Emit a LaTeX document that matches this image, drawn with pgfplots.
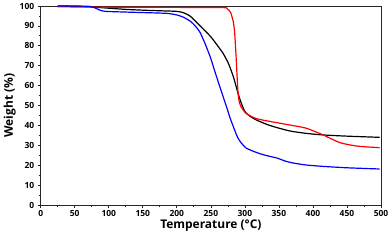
\documentclass[border=0pt]{standalone}
\usepackage{fontspec}
\setmainfont{Open Sans}
\usepackage{pgfplots}
\pgfplotsset{compat=1.18}
\begin{document}
\begin{tikzpicture}
\begin{axis}[
  scale only axis,
  width=340.3bp, height=199bp,
  xmin=0, xmax=500, ymin=0, ymax=100,
  xtick={0,50,...,500}, ytick={0,10,...,100},
  minor x tick num=1, minor y tick num=1,
  xtick pos=bottom, ytick pos=left,
  tick align=outside,
  major tick length=3bp, minor tick length=2bp,
  /pgf/number format/assume math mode=true,
  xticklabel={\pgfmathprintnumber{\tick}},
  yticklabel={\pgfmathprintnumber{\tick}},
  tick label style={font=\fontsize{8.5}{10}\selectfont\bfseries},
  xticklabel style={yshift=1bp},
  xlabel={Temperature (°C)}, ylabel={Weight (\%)},
  label style={font=\fontsize{12}{14}\selectfont\bfseries},
  xlabel style={yshift=3.5bp},
  ylabel style={yshift=-3bp},
  axis line style={line width=0.9bp, black!85},
  every tick/.style={black!85, line width=0.7bp},
  every axis plot/.append style={line width=1.2bp, smooth, tension=0.4, mark=none},
]
\addplot[black] coordinates {(25,100)(50,99.9)(75,99.5)(100,98.9)(125,98.3)(150,97.9)(175,97.6)(200,97.3)(210,96.6)(220,94.8)(230,91.5)(240,88)(250,84.5)(260,80)(268,76.2)(276,71)(283,64.5)(288,58.5)(293,52.8)(300,47)(308,44.5)(317,42.7)(330,40.8)(342,39.4)(366,37.2)(390,36)(415,35.2)(450,34.6)(498,34.0)};
\addplot[red] coordinates {(25,99.6)(100,99.4)(200,99.3)(268,99.2)(274,98.6)(279,96.8)(283,92)(285,86.3)(287,75)(288.5,65)(290,56)(292,51.5)(295,49)(302,46)(317,43.4)(340,41.8)(366,40.2)(390,38.6)(415,35.2)(440,31.3)(465,29.6)(498,28.8)};
\addplot[blue] coordinates {(25,100)(50,100)(72,99.8)(80,99)(88,97.8)(95,97.3)(120,97)(150,96.7)(185,96.3)(200,95.5)(210,94.3)(220,92.3)(227,90)(234,86.8)(241,81.5)(249,74.5)(256,67)(263,59.6)(268,54.5)(273,49.4)(278,44)(283,39.4)(288,35)(293,31.9)(302,28.6)(317,26.4)(330,25)(347,23.6)(360,22)(371,21.1)(390,20.1)(415,19.4)(450,18.7)(498,18.1)};
\end{axis}
\begin{axis}[
  scale only axis,
  width=340.3bp, height=199bp,
  xmin=0, xmax=500, ymin=0, ymax=100,
  axis lines=none,
  xtick={0,50,...,500}, minor x tick num=1, ytick=\empty,
  xtick pos=top, tick align=inside, xticklabels={},
  major tick length=3bp, minor tick length=2bp,
  every tick/.style={black!85, line width=0.7bp},
]
\end{axis}
\pgfresetboundingbox
\path (-40.7bp,-36bp) rectangle (351.3bp,205bp);
\end{tikzpicture}
\end{document}
